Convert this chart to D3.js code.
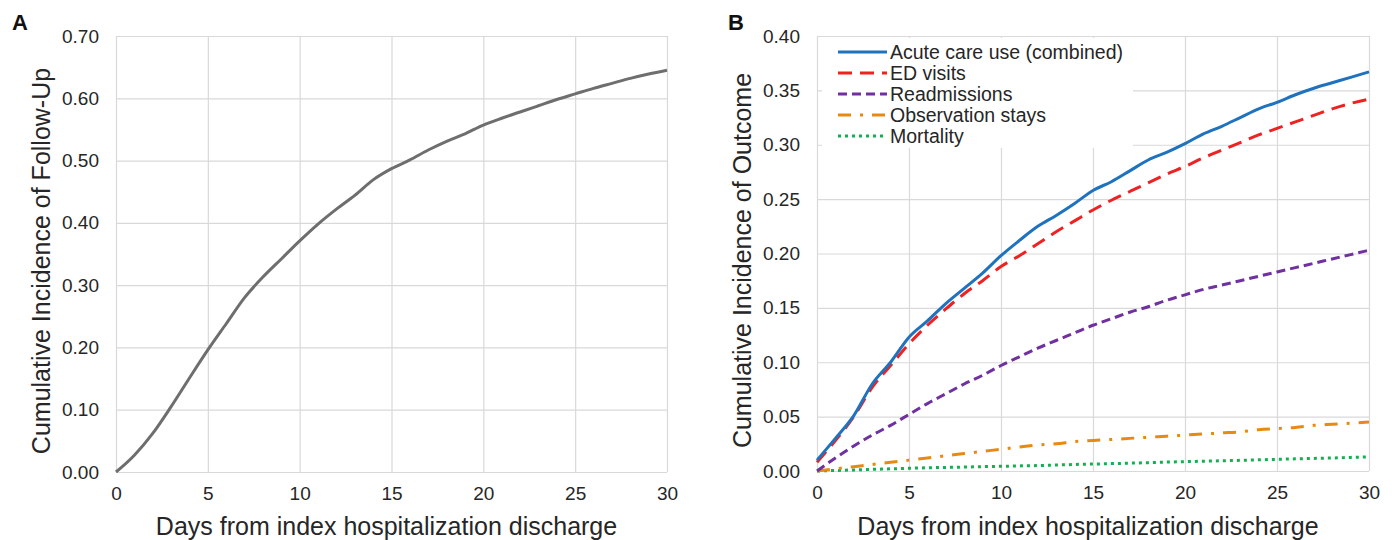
<!DOCTYPE html>
<html>
<head>
<meta charset="utf-8">
<script src="https://cdn.jsdelivr.net/npm/d3@7"></script>
<style>
  body { margin: 0; background: #fff; }
  svg { font-family: "Liberation Sans", Arial, sans-serif; }
  .grid line { stroke: #d9d9d9; stroke-width: 1.2; }
  .grid path { display: none; }
  .axis path, .axis line { display: none; }
  .axis text { font-size: 19px; fill: #262626; }
</style>
</head>
<body>
<div id="chart"></div>
<script>
const width = 1395;
const height = 540;

// shared x values (days since discharge)
const days = d3.range(0, 31);
const xTicks = [0, 5, 10, 15, 20, 25, 30];

// panel A
const followUp = [0, 0.027, 0.062, 0.105, 0.151, 0.196, 0.238, 0.280, 0.313, 0.342,
  0.371, 0.398, 0.422, 0.444, 0.469, 0.487, 0.501, 0.517, 0.531, 0.543,
  0.557, 0.568, 0.578, 0.588, 0.598, 0.607, 0.616, 0.624, 0.632, 0.639, 0.645];
const yTicksA = [0, 0.1, 0.2, 0.3, 0.4, 0.5, 0.6, 0.7];

// panel B
const acuteCare = [0.010, 0.030, 0.051, 0.080, 0.100, 0.123, 0.138, 0.154, 0.168, 0.182,
  0.198, 0.212, 0.225, 0.235, 0.246, 0.258, 0.266, 0.276, 0.286, 0.293,
  0.301, 0.310, 0.317, 0.325, 0.333, 0.339, 0.346, 0.352, 0.357, 0.362, 0.367];
const edVisits = [0.008, 0.028, 0.050, 0.077, 0.097, 0.117, 0.134, 0.149, 0.163, 0.175,
  0.188, 0.198, 0.209, 0.220, 0.230, 0.240, 0.249, 0.257, 0.265, 0.273,
  0.280, 0.288, 0.295, 0.302, 0.309, 0.315, 0.321, 0.327, 0.333, 0.338, 0.342];
const readmissions = [0, 0.012, 0.023, 0.033, 0.042, 0.052, 0.062, 0.071, 0.080, 0.088,
  0.097, 0.105, 0.113, 0.120, 0.127, 0.134, 0.140, 0.146, 0.151, 0.157,
  0.162, 0.167, 0.171, 0.175, 0.179, 0.183, 0.187, 0.191, 0.195, 0.199, 0.203];
const observation = [0, 0.002, 0.004, 0.006, 0.008, 0.010, 0.012, 0.014, 0.016, 0.018,
  0.020, 0.022, 0.024, 0.025, 0.027, 0.028, 0.029, 0.030, 0.031, 0.032,
  0.033, 0.034, 0.035, 0.036, 0.038, 0.039, 0.040, 0.042, 0.043, 0.044, 0.045];
const mortality = [0, 0.0005, 0.001, 0.0015, 0.002, 0.0025, 0.003, 0.0033, 0.0036, 0.004,
  0.0043, 0.0047, 0.005, 0.0055, 0.006, 0.0064, 0.0068, 0.0072, 0.0077, 0.0082,
  0.0086, 0.009, 0.0094, 0.0098, 0.0103, 0.0107, 0.0112, 0.0116, 0.012, 0.0125, 0.013];
const yTicksB = [0, 0.05, 0.1, 0.15, 0.2, 0.25, 0.3, 0.35, 0.4];

const seriesB = [
  { name: "Acute care use (combined)", values: acuteCare, color: "#1f72be", dash: null },
  { name: "ED visits", values: edVisits, color: "#ee2222", dash: "14,8" },
  { name: "Readmissions", values: readmissions, color: "#7030a0", dash: "9,5" },
  { name: "Observation stays", values: observation, color: "#e88a12", dash: "13,9,3,9" },
  { name: "Mortality", values: mortality, color: "#12b050", dash: "3,4" }
];

const svg = d3.select("#chart")
  .append("svg")
  .attr("width", width)
  .attr("height", height);

// draws grid, tick labels and titles for one panel, returns scales
function drawFrame(box, yMax, yTicks, yLabel, letter, letterX) {
  const x = d3.scaleLinear().domain([0, 30]).range([box.left, box.right]);
  const y = d3.scaleLinear().domain([0, yMax]).range([box.bottom, box.top]);

  svg.append("g")
    .attr("class", "grid")
    .attr("transform", `translate(0,${box.bottom})`)
    .call(d3.axisBottom(x).tickValues(xTicks).tickSize(-(box.bottom - box.top)).tickFormat(""));

  svg.append("g")
    .attr("class", "grid")
    .attr("transform", `translate(${box.left},0)`)
    .call(d3.axisLeft(y).tickValues(yTicks).tickSize(-(box.right - box.left)).tickFormat(""));

  svg.append("g")
    .attr("class", "axis")
    .attr("transform", `translate(0,${box.bottom})`)
    .call(d3.axisBottom(x).tickValues(xTicks).tickSize(0).tickPadding(15).tickFormat(d3.format("d")));

  svg.append("g")
    .attr("class", "axis")
    .attr("transform", `translate(${box.left},0)`)
    .call(d3.axisLeft(y).tickValues(yTicks).tickSize(0).tickPadding(17).tickFormat(d3.format(".2f")));

  svg.append("text")
    .attr("x", (box.left + box.right) / 2 - 5)
    .attr("y", 535)
    .attr("text-anchor", "middle")
    .attr("font-size", "25px")
    .attr("fill", "#262626")
    .text("Days from index hospitalization discharge");

  svg.append("text")
    .attr("transform", `translate(${box.left - 66},${(box.top + box.bottom) / 2 + 7}) rotate(-90)`)
    .attr("text-anchor", "middle")
    .attr("font-size", "25px")
    .attr("fill", "#262626")
    .text(yLabel);

  svg.append("text")
    .attr("x", letterX)
    .attr("y", 30)
    .attr("font-size", "22px")
    .attr("font-weight", "bold")
    .attr("fill", "#111")
    .text(letter);

  return { x, y };
}

// panel A
const boxA = { left: 116, right: 667, top: 36, bottom: 472 };
const sA = drawFrame(boxA, 0.7, yTicksA, "Cumulative Incidence of Follow-Up", "A", 12);

svg.append("path")
  .datum(followUp)
  .attr("fill", "none")
  .attr("stroke", "#6e6e6e")
  .attr("stroke-width", 3)
  .attr("d", d3.line().x((d, i) => sA.x(days[i])).y((d) => sA.y(d)).curve(d3.curveMonotoneX));

// panel B
const boxB = { left: 817, right: 1369, top: 36, bottom: 471 };
const sB = drawFrame(boxB, 0.4, yTicksB, "Cumulative Incidence of Outcome", "B", 728);

const lineB = d3.line()
  .x((d, i) => sB.x(days[i]))
  .y((d) => sB.y(d))
  .curve(d3.curveMonotoneX);

// draw back to front so the blue line sits on top
seriesB.slice().reverse().forEach((s) => {
  svg.append("path")
    .datum(s.values)
    .attr("fill", "none")
    .attr("stroke", s.color)
    .attr("stroke-width", 3)
    .attr("stroke-dasharray", s.dash)
    .attr("d", lineB);
});

// legend
const legend = svg.append("g");
legend.append("rect")
  .attr("x", 822)
  .attr("y", 38)
  .attr("width", 311)
  .attr("height", 110)
  .attr("fill", "#fff");

const rows = legend.selectAll("g.row")
  .data(seriesB)
  .enter()
  .append("g")
  .attr("class", "row")
  .attr("transform", (d, i) => `translate(0,${52 + i * 21})`);

rows.append("line")
  .attr("x1", 838)
  .attr("x2", 887)
  .attr("stroke", (d) => d.color)
  .attr("stroke-width", 3)
  .attr("stroke-dasharray", (d) => d.dash);

rows.append("text")
  .attr("x", 890)
  .attr("y", 7)
  .attr("font-size", "19.5px")
  .attr("fill", "#262626")
  .text((d) => d.name);
</script>
</body>
</html>
